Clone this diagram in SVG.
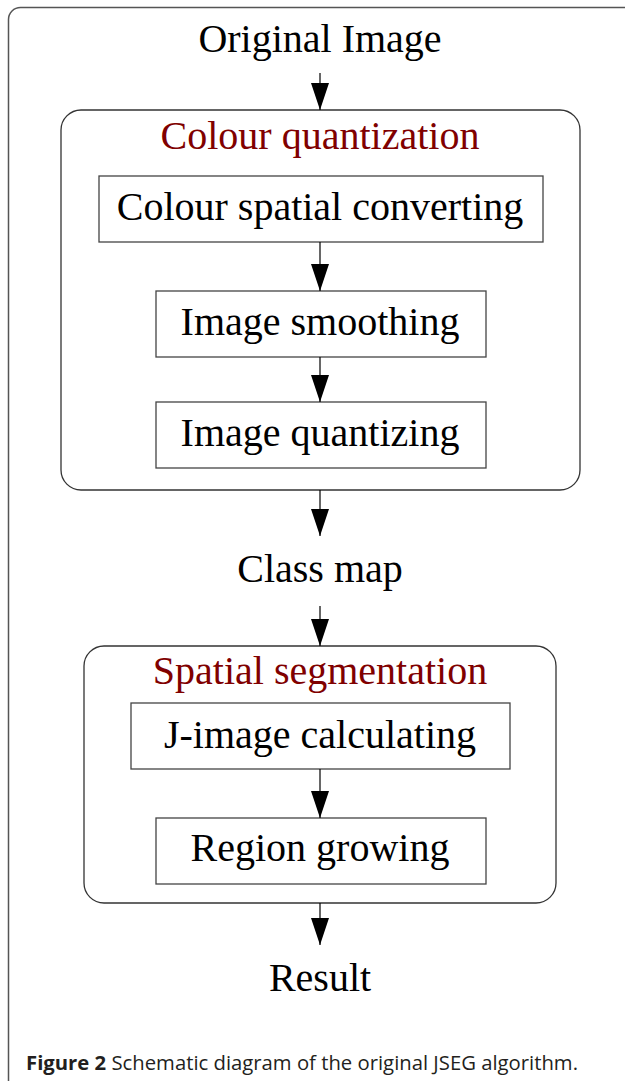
<svg xmlns="http://www.w3.org/2000/svg" width="625" height="1081" viewBox="0 0 625 1081">
<defs>
<marker id="ah" markerWidth="27" markerHeight="18" refX="27" refY="9" orient="auto" markerUnits="userSpaceOnUse" viewBox="0 0 27 18">
<path d="M0,0 L27,9 L0,18 Z" fill="#000"/>
</marker>
</defs>
<style>
.t{font-family:"Liberation Serif","Times New Roman",serif;font-size:40px;fill:#000;text-anchor:middle}
.h{font-family:"Liberation Serif","Times New Roman",serif;font-size:40px;fill:#800000;text-anchor:middle}
.box{fill:#fff;stroke:#444;stroke-width:1.3}
.grp{fill:none;stroke:#333;stroke-width:1.3}
.c{stroke:#000;stroke-width:1.2;fill:none;marker-end:url(#ah)}
.cap{font-family:"Open Sans","Noto Sans",sans-serif;font-size:20.3px;fill:#231f20}
</style>
<rect x="8.5" y="7.5" width="660" height="1090" rx="12" fill="#fff" stroke="#555" stroke-width="1.5"/>
<g id="original-image"><text class="t" x="320" y="52">Original Image</text></g>
<g id="colour-quantization">
<rect class="grp" x="61" y="110" width="519" height="380" rx="20"/>
<text class="h" x="320" y="149">Colour quantization</text>
</g>
<g id="colour-spatial-converting">
<rect class="box" x="99" y="176" width="444" height="66"/>
<text class="t" x="320" y="220">Colour spatial converting</text>
</g>
<g id="image-smoothing">
<rect class="box" x="156" y="291" width="330" height="66"/>
<text class="t" x="320" y="335">Image smoothing</text>
</g>
<g id="image-quantizing">
<rect class="box" x="156" y="402" width="330" height="66"/>
<text class="t" x="320" y="446">Image quantizing</text>
</g>
<g id="class-map"><text class="t" x="320" y="582">Class map</text></g>
<g id="spatial-segmentation">
<rect class="grp" x="84" y="646" width="472" height="257" rx="20"/>
<text class="h" x="320" y="684">Spatial segmentation</text>
</g>
<g id="j-image-calculating">
<rect class="box" x="131" y="703" width="379" height="66"/>
<text class="t" x="320" y="748">J-image calculating</text>
</g>
<g id="region-growing">
<rect class="box" x="156" y="818" width="330" height="66"/>
<text class="t" x="320" y="861">Region growing</text>
</g>
<g id="result"><text class="t" x="320" y="991">Result</text></g>
<g id="connectors">
<line class="c" x1="320" y1="73" x2="320" y2="110"/>
<line class="c" x1="320" y1="242" x2="320" y2="291"/>
<line class="c" x1="320" y1="357" x2="320" y2="402"/>
<line class="c" x1="320" y1="490" x2="320" y2="536"/>
<line class="c" x1="320" y1="606" x2="320" y2="646"/>
<line class="c" x1="320" y1="769" x2="320" y2="818"/>
<line class="c" x1="320" y1="903" x2="320" y2="945"/>
</g>
<text class="cap" x="26" y="1070"><tspan font-weight="bold">Figure 2</tspan> Schematic diagram of the original JSEG algorithm.</text>
</svg>
